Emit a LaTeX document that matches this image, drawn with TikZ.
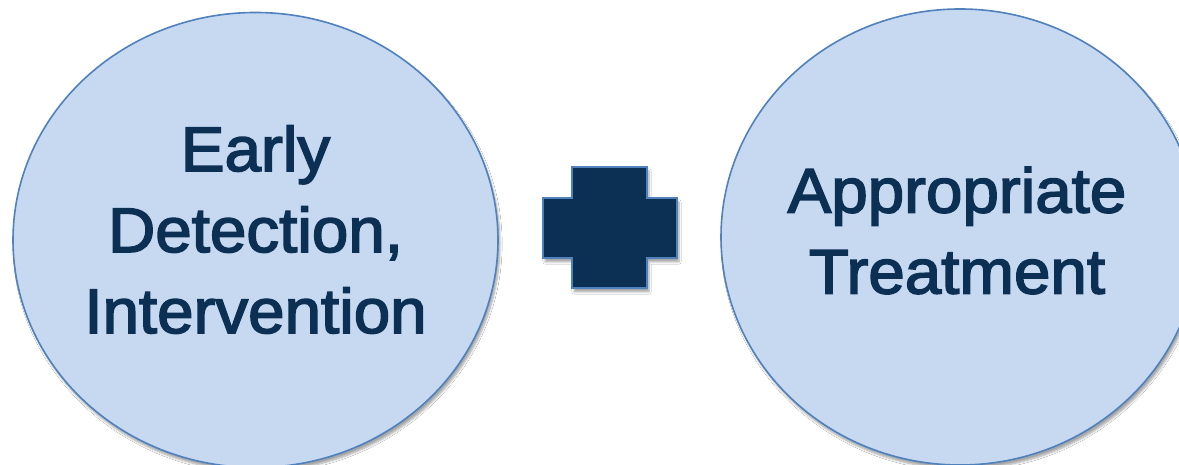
\documentclass[tikz,border=0pt]{standalone}
\usepackage{fontspec}
\setmainfont{Liberation Sans}
\newfontfamily\lblfont[FakeBold=2.5,FakeStretch=1.04]{Liberation Sans}
\usetikzlibrary{shapes.geometric,shadows.blur}
\definecolor{circfill}{HTML}{C6D9F1}
\definecolor{circline}{HTML}{4F81BD}
\definecolor{navy}{HTML}{0C2F54}
\tikzset{
  bubble/.style={ellipse, fill=circfill, draw=circline, line width=1.6pt, inner sep=0pt,
    blur shadow={shadow xshift=2pt, shadow yshift=-4pt, shadow blur steps=6, shadow opacity=35}},
  lbl/.style={text=navy, align=center, font=\lblfont\fontsize{63}{81}\selectfont, inner sep=0pt},
  plusshape/.style={fill=navy, draw=circline, line width=2pt, line join=miter,
    blur shadow={shadow xshift=2pt, shadow yshift=-4pt, shadow blur steps=6, shadow opacity=35}}
}
\begin{document}
\begin{tikzpicture}[x=1pt,y=1pt]
\useasboundingbox (0,0) rectangle (1179,465);
\clip (0,0) rectangle (1179,465);
\fill[white] (0,0) rectangle (1179,465);
\node[bubble, minimum width=485pt, minimum height=455pt] (left) at (255.5,225) {};
\node[bubble, minimum width=478pt, minimum height=456pt] (right) at (960,228) {};
\node[lbl] (lefttext) at (255.5,235.5) {Early\\Detection,\\Intervention};
\node[lbl] (righttext) at (957,234.5) {Appropriate\\Treatment};
\path[plusshape] (572,298) -- (647,298) -- (647,267) -- (677,267) -- (677,207) -- (647,207)
  -- (647,177) -- (572,177) -- (572,207) -- (543,207) -- (543,267) -- (572,267) -- cycle;
\end{tikzpicture}
\end{document}
